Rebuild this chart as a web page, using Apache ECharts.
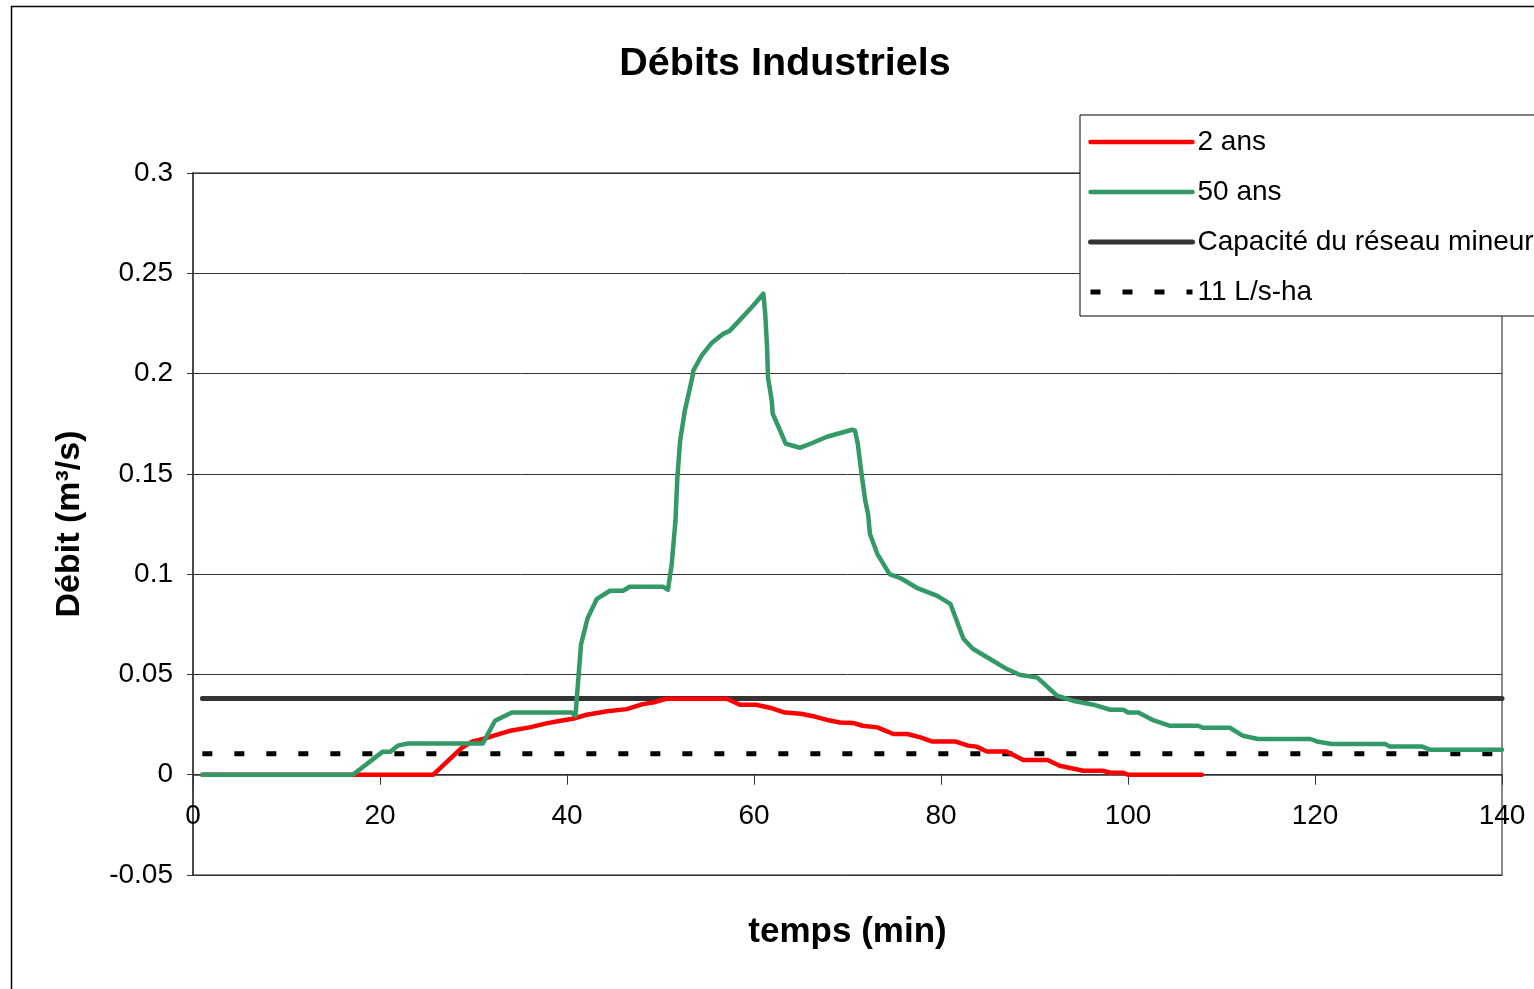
<!DOCTYPE html>
<html>
<head>
<meta charset="utf-8">
<script src="https://cdn.jsdelivr.net/npm/echarts@6/dist/echarts.min.js"></script>
<style>
  html, body { margin: 0; padding: 0; background: #fff; }
  #chart { width: 1534px; height: 989px; }
</style>
</head>
<body>
<div id="chart"></div>
<script>
// Time (min) and flow (m3/s) for each return period
const t2ans = [1, 25.7, 28.8, 29.9, 31, 32.8, 33.9, 36, 37.8, 39.3, 40.6, 42.1, 44.3, 46.4, 48.1, 49.2, 50.7, 57.1, 58.5, 60.2, 61.7, 63.3, 65, 66.5, 68.1, 69.2, 70.6, 71.6, 73.2, 74.9, 76.4, 77.8, 79, 81.5, 82.9, 83.8, 84.9, 87, 88.8, 91.4, 92.7, 95.2, 97.3, 98.1, 99.5, 100, 107.9];
const q2ans = [0, 0, 0.0136, 0.0166, 0.0178, 0.0204, 0.0219, 0.0236, 0.0256, 0.0269, 0.0279, 0.0299, 0.0316, 0.0327, 0.0352, 0.036, 0.0379, 0.0379, 0.0349, 0.0349, 0.0334, 0.031, 0.0304, 0.029, 0.027, 0.026, 0.0258, 0.0244, 0.0236, 0.0203, 0.0203, 0.0186, 0.0166, 0.0166, 0.0145, 0.014, 0.0116, 0.0116, 0.0073, 0.0073, 0.0045, 0.002, 0.002, 0.001, 0.001, 0, 0];

const t50ans = [1, 17.1, 20.3, 21.1, 21.9, 23, 31, 32.3, 34.1, 40.5, 40.9, 41.5, 42.2, 43.2, 44.6, 46, 46.7, 50.3, 50.8, 51.2, 51.6, 51.8, 52.1, 52.6, 53.4, 53.5, 54.4, 55.5, 56.7, 57.4, 59.9, 61, 61.2, 61.4, 61.5, 61.9, 62, 62.8, 63.4, 64.9, 66.3, 67.8, 70.5, 70.8, 71.1, 71.5, 71.9, 72.2, 72.4, 73.2, 74.5, 75.8, 77.4, 79.6, 81, 82.4, 83.4, 85.2, 87, 88.4, 90.3, 90.9, 92.4, 94.1, 96.3, 98.1, 99.5, 100, 101.1, 102.6, 104.5, 107.5, 108, 110.9, 112.3, 113.9, 119.5, 120.2, 121.8, 127.5, 128, 131.4, 132.3, 140];
const q50ans = [0, 0, 0.0115, 0.0115, 0.0145, 0.0156, 0.0156, 0.0269, 0.031, 0.031, 0.0294, 0.065, 0.078, 0.0877, 0.0917, 0.0917, 0.0937, 0.0937, 0.0922, 0.105, 0.1266, 0.148, 0.1665, 0.1815, 0.198, 0.2014, 0.2089, 0.2154, 0.2198, 0.2213, 0.2338, 0.2398, 0.2298, 0.2129, 0.198, 0.1864, 0.18, 0.1715, 0.165, 0.163, 0.1655, 0.1685, 0.172, 0.1715, 0.165, 0.15, 0.1366, 0.13, 0.12, 0.11, 0.1, 0.0977, 0.0932, 0.0892, 0.0852, 0.0678, 0.0628, 0.0578, 0.0528, 0.0498, 0.0484, 0.0459, 0.0394, 0.0369, 0.0349, 0.0324, 0.0324, 0.031, 0.031, 0.0274, 0.0244, 0.0244, 0.0234, 0.0234, 0.0194, 0.0178, 0.0178, 0.0166, 0.0153, 0.0153, 0.0141, 0.0141, 0.0125, 0.0125];

// Horizontal reference levels
const tRef = [1, 140];
const capacite = [0.038, 0.038];
const norme11 = [0.0105, 0.0105];

const seriesNames = ['2 ans', '50 ans', 'Capacité du réseau mineur', '11 L/s-ha'];
const seriesColors = ['#ff0000', '#339966', '#333333', '#000000'];

const zip = (xs, ys) => xs.map((x, i) => [x, ys[i]]);
const font = '"Liberation Sans", Arial, sans-serif';
const dash = [10, 22];

const chart = echarts.init(document.getElementById('chart'), null, { renderer: 'canvas' });

chart.setOption({
  animation: false,
  backgroundColor: '#fff',
  textStyle: { fontFamily: font },
  title: {
    text: 'Débits Industriels',
    left: 780,
    textAlign: 'center',
    top: 39,
    textStyle: { fontFamily: font, fontSize: 39.5, fontWeight: 'bold', color: '#000' }
  },
  graphic: [{
    type: 'rect',
    shape: { x: 11.5, y: 6.5, width: 1700, height: 1200 },
    style: { fill: 'none', stroke: '#000', lineWidth: 1.5 },
    silent: true
  }],
  legend: {
    orient: 'vertical',
    left: 1080,
    top: 115,
    data: seriesNames.map((n, i) => ({
      name: n,
      lineStyle: { width: i >= 2 ? 5 : 4.5, type: i === 3 ? dash : 'solid', color: seriesColors[i] }
    })),
    padding: [12, 8, 9, 8],
    itemGap: 20,
    itemWidth: 102,
    itemHeight: 5,
    itemStyle: { opacity: 0 },
    backgroundColor: '#fff',
    borderColor: '#000',
    borderWidth: 1,
    textStyle: { fontFamily: font, fontSize: 28, color: '#000', lineHeight: 30 }
  },
  grid: {
    left: 193, top: 173, width: 1309, height: 702,
    outerBoundsMode: 'none',
    containLabel: false,
    show: true, borderColor: '#888', borderWidth: 2, backgroundColor: '#fff'
  },
  xAxis: {
    type: 'value',
    min: 0, max: 140, interval: 20,
    name: 'temps (min)',
    nameLocation: 'middle',
    nameGap: 40,
    nameTextStyle: { fontFamily: font, fontSize: 35, fontWeight: 'bold', color: '#000' },
    axisLine: { onZero: true, lineStyle: { color: '#333', width: 1.5 } },
    axisTick: { show: true, length: 10, lineStyle: { color: '#333' } },
    axisLabel: { margin: -73, fontFamily: font, fontSize: 28, color: '#000' },
    splitLine: { show: false }
  },
  yAxis: {
    type: 'value',
    min: -0.05, max: 0.3, interval: 0.05,
    name: 'Débit (m³/s)',
    nameLocation: 'middle',
    nameGap: 106,
    nameRotate: 90,
    nameTextStyle: { fontFamily: font, fontSize: 34, fontWeight: 'bold', color: '#000' },
    axisLine: { show: true, onZero: false, lineStyle: { color: '#333', width: 1.5 } },
    axisTick: { show: true, length: 6, lineStyle: { color: '#333' } },
    axisLabel: {
      margin: 20, fontFamily: font, fontSize: 28, color: '#000',
      formatter: v => String(+v.toFixed(2))
    },
    splitLine: { show: true, lineStyle: { color: '#333', width: 1 } }
  },
  series: [
    {
      name: seriesNames[0], type: 'line', data: zip(t2ans, q2ans),
      symbol: 'none', z: 4,
      lineStyle: { color: seriesColors[0], width: 4.5, join: 'round', cap: 'round' },
      itemStyle: { color: seriesColors[0] }
    },
    {
      name: seriesNames[1], type: 'line', data: zip(t50ans, q50ans),
      symbol: 'none', z: 5,
      lineStyle: { color: seriesColors[1], width: 4.5, join: 'round', cap: 'round' },
      itemStyle: { color: seriesColors[1] }
    },
    {
      name: seriesNames[2], type: 'line', data: zip(tRef, capacite),
      symbol: 'none', z: 3,
      lineStyle: { color: seriesColors[2], width: 5, cap: 'round' },
      itemStyle: { color: seriesColors[2] }
    },
    {
      name: seriesNames[3], type: 'line', data: zip(tRef, norme11),
      symbol: 'none', z: 3,
      lineStyle: { color: seriesColors[3], width: 5, type: dash },
      itemStyle: { color: seriesColors[3] }
    }
  ]
});
</script>
</body>
</html>
